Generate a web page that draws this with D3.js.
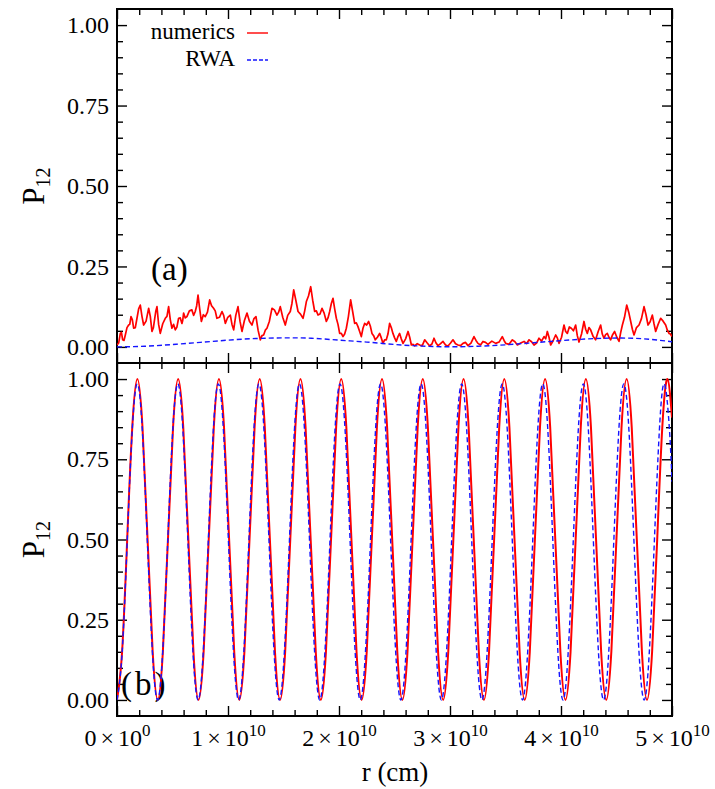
<!DOCTYPE html>
<html><head><meta charset="utf-8">
<script src="https://cdn.jsdelivr.net/npm/d3@7"></script>
</head><body style="margin:0;background:#fff">
<svg id="c" width="715" height="789" style="display:block;font-family:'Liberation Serif','Times New Roman',serif"></svg>
<script>
// ---------- DATA (r in units of 10^10 cm) ----------
// Panel (a): numerics (noisy)
const rNumA = [
0.000,0.015,0.030,0.040,0.051,0.063,0.075,0.090,0.105,0.115,0.126,0.138,0.150,0.165,0.180,0.195,0.210,0.225,0.240,0.262,
0.285,0.300,0.315,0.328,0.340,0.350,0.360,0.375,0.390,0.412,0.435,0.450,0.465,0.480,0.495,0.510,0.525,0.540,0.555,0.570,
0.585,0.592,0.600,0.615,0.630,0.652,0.675,0.690,0.705,0.718,0.730,0.745,0.760,0.778,0.795,0.815,0.835,0.852,0.870,0.885,
0.900,0.923,0.946,0.961,0.976,0.998,1.021,1.036,1.051,1.070,1.090,1.108,1.126,1.148,1.171,1.193,1.216,1.234,1.252,1.271,
1.291,1.306,1.321,1.336,1.351,1.373,1.396,1.418,1.441,1.456,1.471,1.493,1.516,1.538,1.561,1.576,1.592,1.611,1.631,1.653,
1.676,1.691,1.706,1.725,1.745,1.763,1.781,1.796,1.811,1.829,1.847,1.866,1.886,1.901,1.916,1.931,1.946,1.961,1.976,1.991,
2.006,2.021,2.036,2.051,2.066,2.085,2.105,2.123,2.141,2.156,2.171,2.186,2.201,2.216,2.231,2.249,2.267,2.282,2.297,2.312,
2.327,2.346,2.366,2.381,2.396,2.411,2.426,2.441,2.456,2.471,2.486,2.501,2.516,2.531,2.546,2.561,2.577,2.600,2.622,2.637,
2.652,2.667,2.682,2.705,2.727,2.750,2.772,2.795,2.817,2.837,2.856,2.874,2.892,2.915,2.937,2.960,2.982,3.005,3.027,3.050,
3.072,3.095,3.117,3.140,3.162,3.189,3.216,3.234,3.252,3.275,3.297,3.320,3.342,3.377,3.412,3.442,3.471,3.487,3.502,3.532,
3.562,3.585,3.607,3.637,3.667,3.690,3.712,3.735,3.757,3.780,3.802,3.825,3.847,3.862,3.877,3.892,3.907,3.930,3.952,3.967,
3.982,4.005,4.027,4.042,4.057,4.075,4.093,4.112,4.132,4.147,4.162,4.185,4.207,4.222,4.237,4.252,4.267,4.290,4.312,4.335,
4.357,4.372,4.387,4.402,4.417,4.432,4.447,4.465,4.483,4.503,4.523,4.538,4.553,4.572,4.592,4.610,4.628,4.643,4.658,4.680,
4.703,4.725,4.748,4.766,4.784,4.803,4.823,4.838,4.853,4.875,4.898,4.920,4.943,4.958,4.973,4.986,5.000];
const pNumA = [
0.006,0.012,0.042,0.045,0.022,0.020,0.037,0.060,0.068,0.070,0.094,0.085,0.058,0.060,0.089,0.118,0.130,0.095,0.068,0.080,
0.120,0.095,0.048,0.060,0.089,0.112,0.125,0.070,0.042,0.072,0.089,0.095,0.125,0.085,0.058,0.070,0.053,0.062,0.089,0.090,
0.073,0.082,0.105,0.090,0.094,0.112,0.115,0.098,0.110,0.128,0.161,0.118,0.079,0.100,0.094,0.108,0.146,0.128,0.120,0.112,
0.089,0.092,0.110,0.098,0.073,0.092,0.099,0.070,0.053,0.098,0.125,0.080,0.048,0.082,0.105,0.080,0.068,0.088,0.094,0.052,
0.022,0.035,0.037,0.052,0.058,0.080,0.120,0.115,0.099,0.108,0.125,0.092,0.068,0.098,0.110,0.135,0.177,0.145,0.110,0.102,
0.089,0.112,0.141,0.158,0.187,0.145,0.110,0.112,0.099,0.102,0.120,0.105,0.079,0.090,0.110,0.135,0.151,0.118,0.089,0.070,
0.042,0.042,0.032,0.040,0.058,0.095,0.146,0.110,0.073,0.075,0.063,0.048,0.032,0.058,0.073,0.068,0.079,0.065,0.042,0.035,
0.022,0.030,0.042,0.028,0.011,0.022,0.022,0.040,0.073,0.060,0.042,0.028,0.017,0.032,0.042,0.025,0.011,0.025,0.048,0.030,
0.006,0.008,0.003,0.010,0.006,0.004,0.022,0.012,0.003,0.009,0.027,0.012,0.004,0.010,0.017,0.006,0.003,0.012,0.022,0.010,
0.006,0.004,0.011,0.014,0.004,0.012,0.032,0.020,0.011,0.006,0.017,0.014,0.008,0.018,0.011,0.015,0.032,0.020,0.011,0.008,
0.022,0.016,0.006,0.012,0.017,0.010,0.022,0.016,0.006,0.012,0.027,0.018,0.032,0.025,0.048,0.030,0.006,0.020,0.037,0.028,
0.011,0.030,0.068,0.048,0.042,0.062,0.058,0.050,0.068,0.035,0.015,0.040,0.079,0.055,0.042,0.060,0.053,0.032,0.022,0.048,
0.068,0.040,0.027,0.038,0.042,0.030,0.022,0.038,0.048,0.030,0.017,0.045,0.068,0.092,0.130,0.108,0.079,0.055,0.037,0.060,
0.068,0.088,0.125,0.100,0.068,0.078,0.099,0.072,0.048,0.070,0.089,0.080,0.068,0.052,0.042,0.040,0.032];
// Panel (a): RWA
const rRwaA = [0,0.25,0.5,0.75,1.0,1.25,1.5,1.75,2.0,2.25,2.5,2.75,3.0,3.25,3.5,3.75,4.0,4.25,4.5,4.75,5.0];
const pRwaA = [0,0.002,0.0075,0.014,0.021,0.026,0.028,0.027,0.021,0.015,0.0075,0.0025,0.0003,0.002,0.0065,0.013,0.0195,0.025,0.0275,0.025,0.016];

// Panel (b): numerics
const rNumB = [
0.0000,0.0459,0.0918,0.1377,0.1837,0.2296,0.2755,0.3214,
0.3673,0.4132,0.4591,0.5050,0.5510,0.5969,0.6428,0.6887,
0.7346,0.7805,0.8264,0.8723,0.9183,0.9642,1.0101,1.0560,
1.1019,1.1478,1.1937,1.2396,1.2856,1.3315,1.3774,1.4233,
1.4692,1.5151,1.5610,1.6069,1.6529,1.6988,1.7447,1.7906,
1.8365,1.8824,1.9283,1.9742,2.0202,2.0661,2.1120,2.1579,
2.2038,2.2497,2.2956,2.3415,2.3875,2.4334,2.4793,2.5252,
2.5711,2.6170,2.6629,2.7088,2.7548,2.8007,2.8466,2.8925,
2.9384,2.9843,3.0302,3.0761,3.1221,3.1680,3.2139,3.2598,
3.3057,3.3516,3.3975,3.4434,3.4894,3.5353,3.5812,3.6271,
3.6730,3.7189,3.7648,3.8107,3.8567,3.9026,3.9485,3.9944,
4.0403,4.0862,4.1321,4.1780,4.2240,4.2699,4.3158,4.3617,
4.4076,4.4535,4.4994,4.5453,4.5913,4.6372,4.6831,4.7290,
4.7749,4.8208,4.8667,4.9126,4.9586,5.0000];
const pNumB = [
0,0.15,0.5,0.85,1,0.85,0.5,0.15,
0,0.15,0.5,0.85,1,0.85,0.5,0.15,
0,0.15,0.5,0.85,1,0.85,0.5,0.15,
0,0.15,0.5,0.85,1,0.85,0.5,0.15,
0,0.15,0.5,0.85,1,0.85,0.5,0.15,
0,0.15,0.5,0.85,1,0.85,0.5,0.15,
0,0.15,0.5,0.85,1,0.85,0.5,0.15,
0,0.15,0.5,0.85,1,0.85,0.5,0.15,
0,0.15,0.5,0.85,1,0.85,0.5,0.15,
0,0.15,0.5,0.85,1,0.85,0.5,0.15,
0,0.15,0.5,0.85,1,0.85,0.5,0.15,
0,0.15,0.5,0.85,1,0.85,0.5,0.15,
0,0.15,0.5,0.85,1,0.85,0.5,0.15,
0,0.15,0.5,0.85,1,0.88];
// Panel (b): RWA
const rRwaB = [
0.0000,0.0457,0.0913,0.1370,0.1827,0.2283,0.2740,0.3196,
0.3653,0.4110,0.4566,0.5023,0.5480,0.5936,0.6393,0.6849,
0.7306,0.7763,0.8219,0.8676,0.9133,0.9589,1.0046,1.0502,
1.0960,1.1417,1.1873,1.2330,1.2787,1.3243,1.3700,1.4156,
1.4613,1.5070,1.5526,1.5983,1.6440,1.6896,1.7353,1.7809,
1.8266,1.8723,1.9179,1.9636,2.0093,2.0549,2.1006,2.1462,
2.1919,2.2376,2.2832,2.3289,2.3746,2.4202,2.4659,2.5115,
2.5572,2.6029,2.6485,2.6942,2.7399,2.7855,2.8312,2.8768,
2.9226,2.9683,3.0139,3.0596,3.1053,3.1509,3.1966,3.2422,
3.2879,3.3336,3.3792,3.4249,3.4706,3.5162,3.5619,3.6075,
3.6532,3.6989,3.7445,3.7902,3.8359,3.8815,3.9272,3.9728,
4.0185,4.0642,4.1098,4.1555,4.2012,4.2468,4.2925,4.3381,
4.3838,4.4295,4.4751,4.5208,4.5665,4.6121,4.6578,4.7034,
4.7492,4.7949,4.8405,4.8862,4.9319,4.9775,5.0000];
const pRwaB = [
0,0.145,0.49,0.84,0.985,0.84,0.49,0.145,
0,0.145,0.49,0.84,0.985,0.84,0.49,0.145,
0,0.145,0.49,0.84,0.985,0.84,0.49,0.145,
0,0.145,0.49,0.84,0.985,0.84,0.49,0.145,
0,0.145,0.49,0.84,0.985,0.84,0.49,0.145,
0,0.145,0.49,0.84,0.985,0.84,0.49,0.145,
0,0.145,0.49,0.84,0.985,0.84,0.49,0.145,
0,0.145,0.49,0.84,0.985,0.84,0.49,0.145,
0,0.145,0.49,0.84,0.985,0.84,0.49,0.145,
0,0.145,0.49,0.84,0.985,0.84,0.49,0.145,
0,0.145,0.49,0.84,0.985,0.84,0.49,0.145,
0,0.145,0.49,0.84,0.985,0.84,0.49,0.145,
0,0.145,0.49,0.84,0.985,0.84,0.49,0.145,
0,0.145,0.49,0.84,0.985,0.84,0.68];

// Tick labels
const xTickValues = [0,1,2,3,4,5];
const xTickMantissa = ["0","1","2","3","4","5"];
const xTickExponent = ["0","10","10","10","10","10"];
const yTickValues = [0,0.25,0.5,0.75,1.0];
const yTickLabels = ["0.00","0.25","0.50","0.75","1.00"];
const seriesNames = ["numerics","RWA"];
const panelLabels = ["(a)","(b)"];

// ---------- DRAWING ----------
const FONT = '"Liberation Serif", "Times New Roman", serif';
const RED = "#ff0000", BLUE = "#1515ff";
const svg = d3.select("#c");
const x = d3.scaleLinear().domain([0,5]).range([117,672]);
const yA = d3.scaleLinear().domain([-0.05,1.05]).range([363,9]);
const yB = d3.scaleLinear().domain([-0.05,1.05]).range([716,363]);

const xMinor = [0.2,0.4,0.6,0.8,1.2,1.4,1.6,1.8,2.2,2.4,2.6,2.8,3.2,3.4,3.6,3.8,4.2,4.4,4.6,4.8];
const yMinor = [0.05,0.1,0.15,0.2,0.3,0.35,0.4,0.45,0.55,0.6,0.65,0.7,0.8,0.85,0.9,0.95];

function zip(rs, ps){ return rs.map((r,i)=>[r, ps[i]]); }

function txt(sel, size){
  return sel.attr("font-family", FONT).style("font-family", FONT)
    .attr("font-size", size).style("font-size", size+"px").attr("fill","#000");
}

function panel(y, id, labelIdx, withXLabels){
  const [y0, y1] = y.range();
  svg.append("clipPath").attr("id","clip"+id).append("rect")
    .attr("x",117).attr("y",y1).attr("width",555).attr("height",y0-y1);

  const style = g => { g.select(".domain").remove();
    g.attr("font-family", null).attr("font-size", null);
    g.selectAll("line").attr("stroke","#000").attr("stroke-width",1.4);
    txt(g.selectAll("text"), 24); };

  svg.append("g").attr("transform","translate(117,0)")
    .call(d3.axisLeft(y).tickValues(yTickValues).tickSizeInner(-10).tickSizeOuter(0).tickPadding(8)
      .tickFormat((d,i)=>yTickLabels[i])).call(style);
  svg.append("g").attr("transform","translate(117,0)")
    .call(d3.axisLeft(y).tickValues(yMinor).tickSizeInner(-6).tickSizeOuter(0).tickFormat("")).call(style);
  svg.append("g").attr("transform","translate(672,0)")
    .call(d3.axisRight(y).tickValues(yTickValues).tickSizeInner(-10).tickSizeOuter(0).tickFormat("")).call(style);
  svg.append("g").attr("transform","translate(672,0)")
    .call(d3.axisRight(y).tickValues(yMinor).tickSizeInner(-6).tickSizeOuter(0).tickFormat("")).call(style);
  svg.append("g").attr("transform",`translate(0,${y1})`)
    .call(d3.axisTop(x).tickValues(xTickValues).tickSizeInner(-10).tickSizeOuter(0).tickFormat("")).call(style);
  svg.append("g").attr("transform",`translate(0,${y1})`)
    .call(d3.axisTop(x).tickValues(xMinor).tickSizeInner(-6).tickSizeOuter(0).tickFormat("")).call(style);
  const gb = svg.append("g").attr("transform",`translate(0,${y0})`)
    .call(d3.axisBottom(x).tickValues(xTickValues).tickSizeInner(-10).tickSizeOuter(0).tickPadding(13)
      .tickFormat(withXLabels ? (d,i)=>xTickMantissa[i] : "")).call(style);
  svg.append("g").attr("transform",`translate(0,${y0})`)
    .call(d3.axisBottom(x).tickValues(xMinor).tickSizeInner(-6).tickSizeOuter(0).tickFormat("")).call(style);
  if (withXLabels){
    gb.selectAll(".tick text").each(function(d,i){
      const t = d3.select(this);
      t.text(null);
      t.append("tspan").text(xTickMantissa[i]);
      t.append("tspan").attr("dx",4).text("×");
      t.append("tspan").attr("dx",4).text("10");
      t.append("tspan").attr("dy",-10).attr("font-size",17).style("font-size","17px").text(xTickExponent[i]);
    });
  }

  txt(svg.append("text").attr("x", labelIdx===0 ? 151 : 121).attr("y", labelIdx===0 ? 280 : 695), 33)
    .style("letter-spacing", labelIdx===0 ? "0px" : "3px").text(panelLabels[labelIdx]);

  const yl = txt(svg.append("text").attr("transform",`translate(44,${(y0+y1)/2}) rotate(-90)`)
    .attr("text-anchor","middle"), 31);
  yl.append("tspan").text("P");
  yl.append("tspan").attr("font-size",20).style("font-size","20px").attr("dy",6).text("12");

  svg.append("rect").attr("x",117).attr("y",y1).attr("width",555).attr("height",y0-y1)
    .attr("fill","none").attr("stroke","#000").attr("stroke-width",2);
  return "url(#clip"+id+")";
}

const clipA = panel(yA, "A", 0, false);
const clipB = panel(yB, "B", 1, true);

// panel (a)
svg.append("path").datum(zip(rNumA,pNumA)).attr("clip-path",clipA)
  .attr("d", d3.line().x(d=>x(d[0])).y(d=>yA(d[1])))
  .attr("fill","none").attr("stroke",RED).attr("stroke-width",1.7).attr("stroke-linejoin","round");
svg.append("path").datum(zip(rRwaA,pRwaA)).attr("clip-path",clipA)
  .attr("d", d3.line().curve(d3.curveNatural).x(d=>x(d[0])).y(d=>yA(d[1])))
  .attr("fill","none").attr("stroke",BLUE).attr("stroke-width",1.4).attr("stroke-dasharray","5,3");

// panel (b)
svg.append("path").datum(zip(rNumB,pNumB)).attr("clip-path",clipB)
  .attr("d", d3.line().curve(d3.curveNatural).x(d=>x(d[0])).y(d=>yB(d[1])))
  .attr("fill","none").attr("stroke",RED).attr("stroke-width",2);
svg.append("path").datum(zip(rRwaB,pRwaB)).attr("clip-path",clipB)
  .attr("d", d3.line().curve(d3.curveNatural).x(d=>x(d[0])).y(d=>yB(d[1])))
  .attr("fill","none").attr("stroke",BLUE).attr("stroke-width",1.4).attr("stroke-dasharray","5,3");

// legend
const legColors = [RED, BLUE], legDash = [null, "4,2"], legY = [33, 60];
seriesNames.forEach((name,i)=>{
  txt(svg.append("text").attr("x",235).attr("y",legY[i]+6).attr("text-anchor","end"), 23).text(name);
  svg.append("line").attr("x1",247).attr("x2",268).attr("y1",legY[i]).attr("y2",legY[i])
    .attr("stroke",legColors[i]).attr("stroke-width",1.4).attr("stroke-dasharray",legDash[i]);
});

txt(svg.append("text").attr("x",395).attr("y",781).attr("text-anchor","middle"), 27).text("r (cm)");
</script>
</body></html>
